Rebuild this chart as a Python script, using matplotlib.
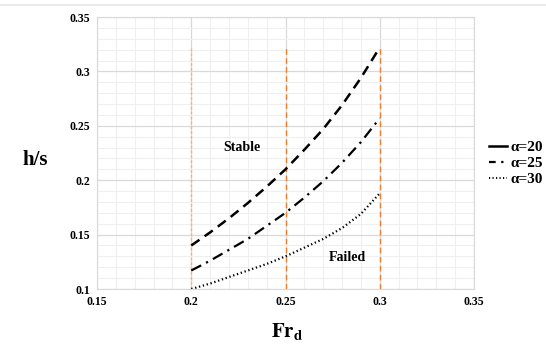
import matplotlib.pyplot as plt
from matplotlib.lines import Line2D
from matplotlib.ticker import MultipleLocator

# data
fr_d = [0.20, 0.21, 0.22, 0.23, 0.24, 0.25, 0.26, 0.27, 0.28, 0.29, 0.30]
hs_a20 = [0.140, 0.152, 0.165, 0.179, 0.194, 0.210, 0.228, 0.247, 0.269, 0.294, 0.322]
hs_a25 = [0.117, 0.126, 0.136, 0.146, 0.158, 0.170, 0.184, 0.199, 0.216, 0.235, 0.257]
hs_a30 = [0.100, 0.105, 0.111, 0.117, 0.123, 0.130, 0.138, 0.146, 0.156, 0.169, 0.188]
labels = ['α=20', 'α=25', 'α=30']
limit_x = [0.20, 0.25, 0.30]
limit_top = 0.322

plt.rcParams['font.family'] = ['Liberation Serif', 'DejaVu Serif']
plt.rcParams['font.weight'] = 'bold'

fig = plt.figure(figsize=(5.46, 3.49), dpi=100)
ax = fig.add_axes([97 / 546, 1 - 289 / 349, 377 / 546, 272 / 349])

ax.set_xlim(0.15, 0.35)
ax.set_ylim(0.1, 0.35)
ax.xaxis.set_major_locator(MultipleLocator(0.05))
ax.yaxis.set_major_locator(MultipleLocator(0.05))
ax.xaxis.set_minor_locator(MultipleLocator(0.01))
ax.yaxis.set_minor_locator(MultipleLocator(0.01))
ax.grid(which='major', color='#d9d9d9', lw=0.9)
ax.grid(which='minor', color='#efefef', lw=0.8)
ax.set_axisbelow(True)
for s in ax.spines.values():
    s.set_color('#d9d9d9')
ax.tick_params(which='both', length=0, labelsize=8.5, pad=5)
ax.set_xticks([0.15, 0.2, 0.25, 0.3, 0.35])
ax.set_xticklabels(['0.15', '0.2', '0.25', '0.3', '0.35'])
ax.set_yticks([0.1, 0.15, 0.2, 0.25, 0.3, 0.35])
ax.set_yticklabels(['0.1', '0.15', '0.2', '0.25', '0.3', '0.35'])

# orange limit lines
colors = ['#f4b183', '#ed7d31', '#ed7d31']
styles = [(0, (2, 1.5)), (0, (4, 2.5)), (0, (4, 2.5))]
for xv, c, st in zip(limit_x, colors, styles):
    ax.plot([xv, xv], [0.1, limit_top], color=c, lw=1.0, linestyle=st)

ax.plot(fr_d, hs_a20, color='black', lw=1.8, linestyle=(0, (4, 2.5)))
ax.plot(fr_d, hs_a25, color='black', lw=1.6, linestyle=(0, (5, 2.5, 1, 2.5)))
ax.plot(fr_d, hs_a30, color='black', lw=1.6, linestyle=(0, (0.6, 1.2)))

ax.text(0.227, 0.2296, 'Stable', fontsize=10, ha='center', va='center')
ax.text(0.283, 0.1294, 'Failed', fontsize=10, ha='center', va='center')

fig.text(35 / 546, 1 - 160 / 349, 'h/s', fontsize=15, ha='center', va='center')
fig.text(287 / 546, 1 - 332 / 349, r'$\mathbf{Fr_d}$', fontsize=15, ha='center', va='center',
         math_fontfamily='stix')

handles = [
    Line2D([], [], color='black', lw=1.8),
    Line2D([], [], color='black', lw=1.6, linestyle=(0, (3, 2.5, 1, 2.5))),
    Line2D([], [], color='black', lw=1.4, linestyle=(0, (0.6, 1.2))),
]
fig.legend(handles, labels, loc='upper left', bbox_to_anchor=(481 / 546, 1 - 133 / 349),
           frameon=False, fontsize=11, handlelength=1.2, handletextpad=0.2,
           labelspacing=0.15, borderpad=0)

# thin grey frame line at the top of the image
fig.add_artist(Line2D([0, 1], [1 - 5 / 349, 1 - 5 / 349], color='#e6e6e6', lw=1.2))

fig.savefig('out.png', dpi=100)
